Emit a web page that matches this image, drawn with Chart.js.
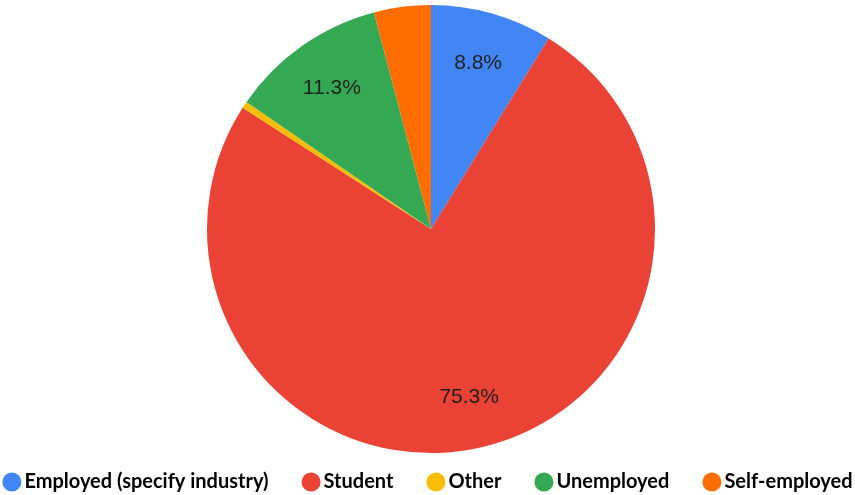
<!DOCTYPE html>
<html>
<head>
<meta charset="utf-8">
<script src="https://cdn.jsdelivr.net/npm/chart.js@4.4.0/dist/chart.umd.min.js"></script>
<style>
  html, body { margin: 0; padding: 0; background: #fff; }
  #wrap { width: 855px; height: 495px; }
</style>
</head>
<body>
<div id="wrap"><canvas id="chart" width="855" height="495"></canvas></div>
<script>
var labels = ['Employed (specify industry)', 'Student', 'Other', 'Unemployed', 'Self-employed'];
var values = [8.8, 75.3, 0.5, 11.3, 4.1];
var colors = ['#4285F4', '#EA4335', '#FBBC04', '#34A853', '#FF6D01'];

// percent labels inside the bigger slices
var sliceLabels = {
  id: 'sliceLabels',
  afterDatasetsDraw: function (chart) {
    var ctx = chart.ctx;
    var meta = chart.getDatasetMeta(0);
    var data = chart.data.datasets[0].data;
    var total = data.reduce(function (a, b) { return a + b; }, 0);
    ctx.save();
    ctx.font = '21px "Liberation Sans", Arial, sans-serif';
    ctx.fillStyle = '#1f1f1f';
    ctx.textAlign = 'center';
    ctx.textBaseline = 'middle';
    meta.data.forEach(function (arc, i) {
      var pct = data[i] / total * 100;
      if (pct < 5) return;
      var p = arc.getProps(['x', 'y', 'startAngle', 'endAngle', 'outerRadius'], true);
      var mid = (p.startAngle + p.endAngle) / 2;
      var r = p.outerRadius * 0.77;
      ctx.fillText(pct.toFixed(1) + '%', p.x + Math.cos(mid) * r, p.y + Math.sin(mid) * r);
    });
    ctx.restore();
  }
};

// bottom legend, one row: dot then bold label, wide gaps between items
var bottomLegend = {
  id: 'bottomLegend',
  afterDraw: function (chart) {
    var ctx = chart.ctx;
    var ds = chart.data.datasets[0];
    var dot = 9.5, textGap = 3, itemGap = 33, y = 482;
    ctx.save();
    ctx.font = 'bold 20px Lato, sans-serif';
    ctx.textBaseline = 'middle';
    var widths = chart.data.labels.map(function (t) { return ctx.measureText(t).width; });
    var total = widths.reduce(function (a, w) { return a + dot * 2 + textGap + w; }, 0) + itemGap * (widths.length - 1);
    var x = (chart.width - total) / 2;
    chart.data.labels.forEach(function (t, i) {
      ctx.fillStyle = ds.backgroundColor[i];
      ctx.beginPath();
      ctx.arc(x + dot, y, dot, 0, Math.PI * 2);
      ctx.fill();
      x += dot * 2 + textGap;
      ctx.fillStyle = '#000';
      ctx.fillText(t, x, y);
      x += widths[i] + itemGap;
    });
    ctx.restore();
  }
};

var config = {
  type: 'pie',
  data: {
    labels: labels,
    datasets: [{
      data: values,
      backgroundColor: colors,
      borderWidth: 0
    }]
  },
  options: {
    responsive: false,
    animation: false,
    layout: {
      padding: { top: 5, bottom: 42, left: 7, right: 0 }
    },
    plugins: {
      tooltip: { enabled: false },
      legend: { display: false }
    }
  },
  plugins: [sliceLabels, bottomLegend]
};

window.onload = function () {
  var ctx = document.getElementById('chart').getContext('2d');
  window.myPie = new Chart(ctx, config);
};
</script>
</body>
</html>
